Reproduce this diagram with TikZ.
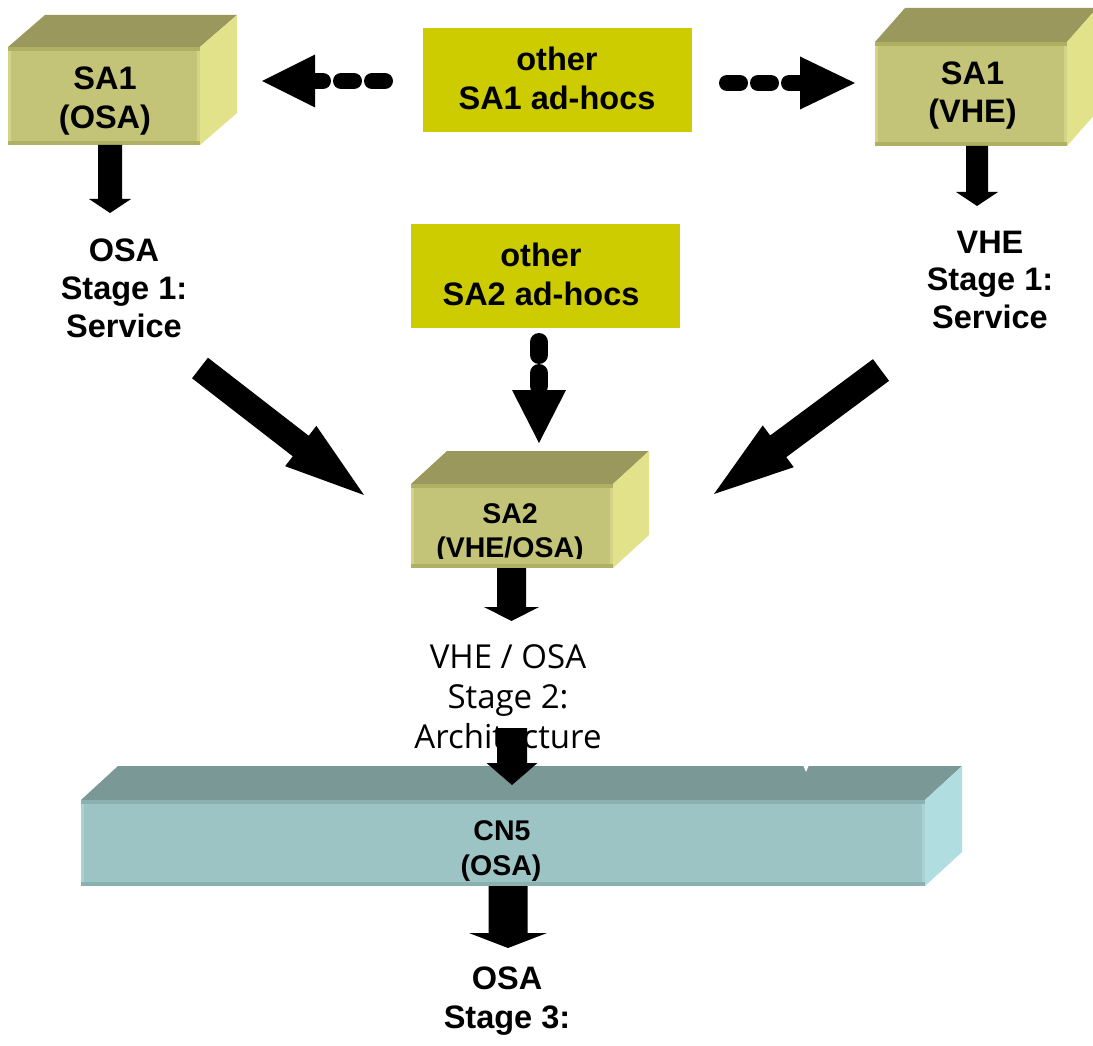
\documentclass[tikz,border=0pt]{standalone}
\usepackage{fontspec}
\setmainfont{Liberation Sans}
\newfontfamily\stagefont{Open Sans}
\usetikzlibrary{calc}
\definecolor{safront}{RGB}{196,196,120}
\definecolor{satop}{RGB}{154,152,92}
\definecolor{saright}{RGB}{226,226,138}
\definecolor{saband}{RGB}{176,176,98}
\definecolor{saedge}{RGB}{212,212,136}
\definecolor{cnfront}{RGB}{157,196,196}
\definecolor{cntop}{RGB}{122,152,150}
\definecolor{cnright}{RGB}{176,222,224}
\definecolor{cnband}{RGB}{138,176,176}
\definecolor{cnedge}{RGB}{170,210,210}
\definecolor{adhoc}{RGB}{204,204,0}
% block arrow: from, to, shaft half width, head half width, head length
\newcommand\blockarrow[5]{%
  \coordinate (ba-h) at ($(#2)!#5!(#1)$);
  \fill[black] ($(#1)!#3!90:(#2)$) -- ($(ba-h)!#3!90:(#2)$) -- ($(ba-h)!#4!90:(#2)$)
    -- (#2) -- ($(ba-h)!#4!-90:(#2)$) -- ($(ba-h)!#3!-90:(#2)$) -- ($(#1)!#3!-90:(#2)$) -- cycle;
}
% dashed arrow: start, head base, tip, line width, head half width
\newcommand\dasharrow[5]{%
  \draw[black, line width=#4, line cap=round, dash pattern=on 13pt off 18pt] (#1) -- (#2);
  \fill[black] ($(#2)!#5!90:(#3)$) -- (#3) -- ($(#2)!#5!-90:(#3)$) -- cycle;
}
% cuboid faces around a front node: name, dx, dy, top colour, right colour, band colour, edge colour
\newcommand\cuboidfaces[7]{%
  \fill[#4] (#1.north west) -- ++(#2,#3) -- ($(#1.north east)+(#2,#3)$) -- (#1.north east) -- cycle;
  \fill[#5] (#1.north east) -- ++(#2,#3) -- ($(#1.south east)+(#2,#3)$) -- (#1.south east) -- cycle;
  \draw[#7, line width=3pt] ($(#1.north west)+(1.5,0)$) -- ($(#1.south west)+(1.5,0)$);
  \draw[#7, line width=3pt] ($(#1.north east)+(-1.5,0)$) -- ($(#1.south east)+(-1.5,0)$);
  \draw[#6, line width=4pt] ($(#1.north west)+(0,2)$) -- ($(#1.north east)+(0,2)$);
  \draw[#6, line width=4pt] ($(#1.south west)+(0,-2)$) -- ($(#1.south east)+(0,-2)$);
}
\begin{document}
\begin{tikzpicture}[x=1pt,y=-1pt,
  face/.style={inner sep=0pt, outer sep=0pt, draw=none, rectangle},
  txt/.style={inner sep=0pt, anchor=base, font=\bfseries\fontsize{32.5}{38}\selectfont},
  smalltxt/.style={inner sep=0pt, anchor=base, font=\bfseries\fontsize{28.5}{34}\selectfont},
  stagetxt/.style={inner sep=0pt, anchor=base, font=\stagefont\fontsize{33}{38}\selectfont}]
\useasboundingbox[fill=white] (0,0) rectangle (1093,1046);

% ad-hoc boxes
\node[face, fill=adhoc, minimum width=269pt, minimum height=104pt] (adhoc1) at (557.5,80) {};
\node[face, fill=adhoc, minimum width=269pt, minimum height=104pt] (adhoc2) at (545.5,276) {};
\node[txt] (adhoc1a) at (557,71) {other};
\node[txt] (adhoc1b) at (557,110) {SA1 ad-hocs};
\node[txt] (adhoc2a) at (541,266) {other};
\node[txt] (adhoc2b) at (541,305) {SA2 ad-hocs};

% SA1 (OSA)
\node[face, fill=safront, minimum width=192pt, minimum height=98pt] (sa1osa) at (104,96) {};
\cuboidfaces{sa1osa}{37}{-32}{satop}{saright}{saband}{saedge}
\node[txt] (sa1osaa) at (105,90) {SA1};
\node[txt] (sa1osab) at (105,129) {(OSA)};

% SA1 (VHE)
\node[face, fill=safront, minimum width=192pt, minimum height=104pt] (sa1vhe) at (971,94) {};
\cuboidfaces{sa1vhe}{30}{-34}{satop}{saright}{saband}{saedge}
\node[txt] (sa1vhea) at (972.5,85) {SA1};
\node[txt] (sa1vheb) at (972.5,123) {(VHE)};

% SA2 (VHE/OSA)
\node[face, fill=safront, minimum width=202pt, minimum height=84pt] (sa2) at (512,526) {};
\cuboidfaces{sa2}{36}{-33}{satop}{saright}{saband}{saedge}
\node[smalltxt] (sa2a) at (510,523) {SA2};
\begin{scope}
  \clip (0,0) rectangle (1093,558);
  \node[smalltxt] (sa2b) at (510,557) {(VHE/OSA)};
\end{scope}

% CN5 (OSA)
\node[face, fill=cnfront, minimum width=844pt, minimum height=86pt] (cn5) at (503,843) {};
\cuboidfaces{cn5}{37}{-34}{cntop}{cnright}{cnband}{cnedge}
\fill[white] (803,765) -- (809,765) -- (806,772) -- cycle;
\node[smalltxt] (cn5a) at (502,840) {CN5};
\node[smalltxt] (cn5b) at (501,875) {(OSA)};

% stage labels
\node[txt] (osa1a) at (124,261) {OSA};
\node[txt] (osa1b) at (124,299) {Stage 1:};
\node[txt] (osa1c) at (124,337) {Service};
\node[txt] (vhe1a) at (990,253) {VHE};
\node[txt] (vhe1b) at (990,290) {Stage 1:};
\node[txt] (vhe1c) at (990,328) {Service};
\node[stagetxt] (st2a) at (508,668) {VHE / OSA};
\node[stagetxt] (st2b) at (508,708) {Stage 2:};
\node[stagetxt] (st2c) at (508,748) {Architecture};
\node[txt] (osa3a) at (507,989) {OSA};
\node[txt] (osa3b) at (507,1028) {Stage 3:};

% arrow end points
\coordinate (d1s) at (385,81);  \coordinate (d1b) at (315,81);  \coordinate (d1t) at (262,81);
\coordinate (d2s) at (727,83);  \coordinate (d2b) at (800,83);  \coordinate (d2t) at (855,83);
\coordinate (d3s) at (539,342); \coordinate (d3b) at (539,390); \coordinate (d3t) at (539,443);
\coordinate (a1s) at (110,145); \coordinate (a1t) at (110,213);
\coordinate (a2s) at (977,146); \coordinate (a2t) at (977,206);
\coordinate (a3s) at (200,368); \coordinate (a3t) at (364,495);
\coordinate (a4s) at (881,370); \coordinate (a4t) at (714,494);
\coordinate (a5s) at (511.5,568); \coordinate (a5t) at (511.5,621);
\coordinate (a6s) at (512,728); \coordinate (a6t) at (512,785);
\coordinate (a7s) at (508,886); \coordinate (a7t) at (508,948);

% dashed arrows from ad-hoc boxes
\dasharrow{d1s}{d1b}{d1t}{16pt}{26.5pt}
\dasharrow{d2s}{d2b}{d2t}{16pt}{26.5pt}
\dasharrow{d3s}{d3b}{d3t}{18pt}{27pt}

% block arrows
\blockarrow{a1s}{a1t}{12pt}{21pt}{14pt}
\blockarrow{a2s}{a2t}{11pt}{21pt}{14pt}
\blockarrow{a3s}{a3t}{13pt}{25.5pt}{80pt}
\blockarrow{a4s}{a4t}{13.5pt}{26pt}{80pt}
\blockarrow{a5s}{a5t}{14.5pt}{27.5pt}{14pt}
\blockarrow{a6s}{a6t}{15pt}{25.5pt}{22pt}
\blockarrow{a7s}{a7t}{19.5pt}{39pt}{15pt}
\end{tikzpicture}
\end{document}
